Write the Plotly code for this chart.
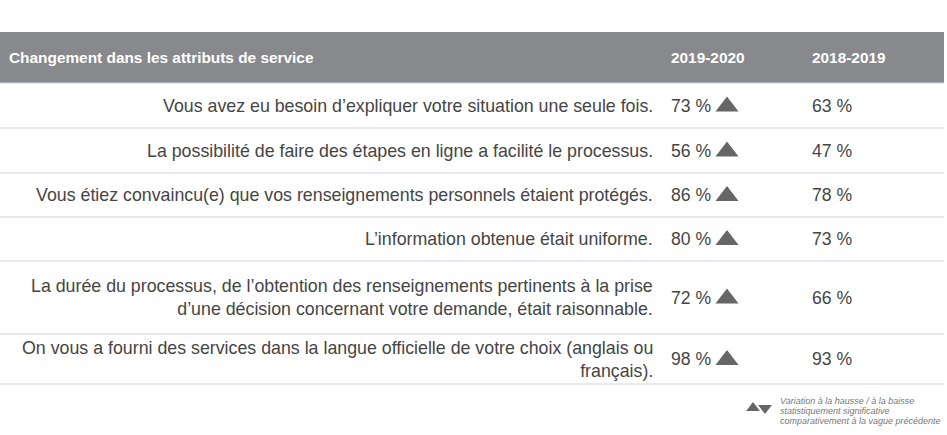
import plotly.graph_objects as go

# table content
header_title = "Changement dans les attributs de service"
col_titles = ["2019-2020", "2018-2019"]
attributes = [
    "Vous avez eu besoin d\u2019expliquer votre situation une seule fois.",
    "La possibilit\u00e9 de faire des \u00e9tapes en ligne a facilit\u00e9 le processus.",
    "Vous \u00e9tiez convaincu(e) que vos renseignements personnels \u00e9taient prot\u00e9g\u00e9s.",
    "L\u2019information obtenue \u00e9tait uniforme.",
    "La dur\u00e9e du processus, de l\u2019obtention des renseignements pertinents \u00e0 la prise<br>d\u2019une d\u00e9cision concernant votre demande, \u00e9tait raisonnable.",
    "On vous a fourni des services dans la langue officielle de votre choix (anglais ou<br>fran\u00e7ais).",
]
values_2020 = [73, 56, 86, 80, 72, 98]
values_2019 = [63, 47, 78, 73, 66, 93]
significant_up = [True, True, True, True, True, True]
legend_lines = [
    "Variation \u00e0 la hausse / \u00e0 la baisse",
    "statistiquement significative",
    "comparativement \u00e0 la vague pr\u00e9c\u00e9dente",
]

W, H = 947, 435
FONT = "Liberation Sans, Arial, Helvetica, sans-serif"

# row layout (pixel coordinates)
row_bounds = [83, 128, 173, 217, 261, 334, 384]
row_centers = [(row_bounds[i] + row_bounds[i + 1]) / 2 for i in range(len(attributes))]
label_x = 655
col1_x = 669
tri_x = 727
col2_x = 810

fig = go.Figure()

# header band
fig.add_shape(type="rect", x0=0, x1=944, y0=32, y1=83, fillcolor="#88898d",
              line=dict(width=0), layer="below")
for yb in row_bounds:
    fig.add_shape(type="line", x0=0, x1=944, y0=yb, y1=yb,
                  line=dict(color="#d2d2e6", width=1))

annotations = [
    dict(x=7, y=57, text="<b>" + header_title + "</b>", xanchor="left", yanchor="middle",
         font=dict(size=15.4, color="white")),
    dict(x=col1_x, y=57, text="<b>" + col_titles[0] + "</b>", xanchor="left", yanchor="middle",
         font=dict(size=15.4, color="white")),
    dict(x=col2_x, y=57, text="<b>" + col_titles[1] + "</b>", xanchor="left", yanchor="middle",
         font=dict(size=15.4, color="white")),
]
for i, label in enumerate(attributes):
    annotations.append(dict(x=label_x, y=row_centers[i], text=label, xanchor="right",
                            yanchor="middle", align="right",
                            font=dict(size=17.8, color="#454545")))
    annotations.append(dict(x=col1_x, y=row_centers[i], text=f"{values_2020[i]} %",
                            xanchor="left", yanchor="middle",
                            font=dict(size=17.6, color="#454545")))
    annotations.append(dict(x=col2_x, y=row_centers[i], text=f"{values_2019[i]} %",
                            xanchor="left", yanchor="middle",
                            font=dict(size=17.6, color="#454545")))

for k, line in enumerate(legend_lines):
    annotations.append(dict(x=778, y=401 + 10 * k, text="<i>" + line + "</i>", xanchor="left",
                            yanchor="middle", align="left",
                            font=dict(size=9, color="#777777")))
for a in annotations:
    a.update(showarrow=False, xref="x", yref="y")

# significance triangles
up_rows = [row_centers[i] for i in range(len(attributes)) if significant_up[i]]
fig.add_trace(go.Scatter(x=[tri_x] * len(up_rows), y=[c + 1 for c in up_rows], mode="markers",
                         marker=dict(symbol="triangle-up", size=20, color="#666666"),
                         hoverinfo="skip", showlegend=False))
fig.add_trace(go.Scatter(x=[753, 765], y=[408, 408], mode="markers",
                         marker=dict(symbol=["triangle-up", "triangle-down"], size=12,
                                     color="#666666"),
                         hoverinfo="skip", showlegend=False))

fig.update_layout(
    width=W, height=H, margin=dict(l=0, r=0, t=0, b=0),
    paper_bgcolor="white", plot_bgcolor="white",
    font=dict(family=FONT),
    xaxis=dict(range=[0, W], visible=False, fixedrange=True),
    yaxis=dict(range=[H, 0], visible=False, fixedrange=True),
    annotations=annotations,
)

fig.write_html("out.html", config=dict(displayModeBar=False),
               post_script="document.body.style.margin='0';")
